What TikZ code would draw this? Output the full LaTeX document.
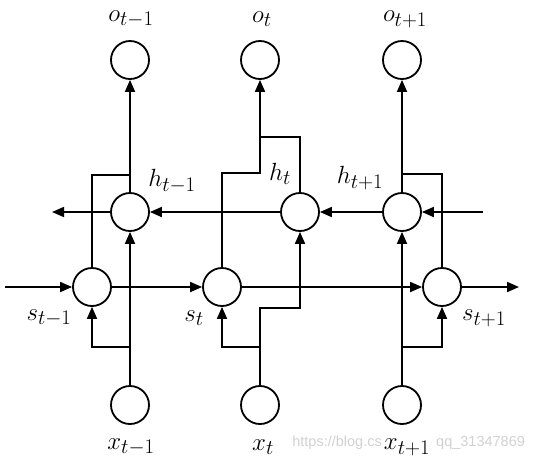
\documentclass[tikz,border=0pt]{standalone}
\usepackage{fontspec}
\newfontfamily\wmfont{Liberation Sans}
\usetikzlibrary{arrows.meta}
\begin{document}
\begin{tikzpicture}[x=1pt,y=-1pt,
  unit/.style={circle,draw,line width=1.8pt,minimum size=38pt,inner sep=0pt},
  plain/.style={line width=1.8pt},
  arr/.style={line width=1.8pt,-{Triangle[length=12pt,width=10pt]}},
  lab/.style={font=\fontsize{28}{32}\selectfont,inner sep=1pt},
  wm/.style={text=black!18,font=\wmfont\fontsize{14.5}{16}\selectfont,inner sep=0pt}]
\useasboundingbox (0,0) rectangle (537,459);
% watermark (visible parts)
\node[wm,anchor=east] (wma) at (382,443) {https://blog.cs};
\node[wm,anchor=west] (wmb) at (436,443) {qq\_31347869};
% units
\node[unit] (o1) at (130,60) {};
\node[unit] (o2) at (260,60) {};
\node[unit] (o3) at (402,60) {};
\node[unit] (h1) at (130,212) {};
\node[unit] (h2) at (300,212) {};
\node[unit] (h3) at (402,212) {};
\node[unit] (s1) at (92,287) {};
\node[unit] (s2) at (222,287) {};
\node[unit] (s3) at (442,287) {};
\node[unit] (x1) at (130,405) {};
\node[unit] (x2) at (260,405) {};
\node[unit] (x3) at (402,405) {};
% labels
\node[lab] (lo1) at (131,19) {$o_{t-1}$};
\node[lab] (lo2) at (262,19) {$o_{t}$};
\node[lab] (lo3) at (405,19) {$o_{t+1}$};
\node[lab] (lh1) at (172,181) {$h_{t-1}$};
\node[lab] (lh2) at (280,174) {$h_{t}$};
\node[lab] (lh3) at (360,178) {$h_{t+1}$};
\node[lab] (ls1) at (49,318) {$s_{t-1}$};
\node[lab] (ls2) at (194,318) {$s_{t}$};
\node[lab] (ls3) at (484,318) {$s_{t+1}$};
\node[lab] (lx1) at (131,447) {$x_{t-1}$};
\node[lab] (lx2) at (263,447) {$x_{t}$};
\node[lab] (lx3) at (407,447) {$x_{t+1}$};
% coordinates
\coordinate (j1) at (130,347);
\coordinate (j2) at (260,347);
\coordinate (j3) at (402,347);
\coordinate (m2) at (300,308);
\coordinate (k1) at (130,175);
\coordinate (k2) at (260,173);
\coordinate (n2) at (260,137);
\coordinate (k3) at (402,174);
\coordinate (hin) at (483,212);
\coordinate (hout) at (52,212);
\coordinate (sin) at (5,287);
\coordinate (sout) at (519,287);
% column t-1
\draw[arr] (x1) -- (h1);
\draw[arr] (j1) -| (s1);
\draw[arr] (h1) -- (o1);
\draw[plain] (s1) |- (k1);
% column t
\draw[arr] (x2) |- (m2) -- (h2);
\draw[arr] (j2) -| (s2);
\draw[arr] (h2) |- (n2) -- (o2);
\draw[plain] (s2) |- (k2) -- (n2);
% column t+1
\draw[arr] (x3) -- (h3);
\draw[arr] (j3) -| (s3);
\draw[arr] (h3) -- (o3);
\draw[plain] (s3) |- (k3);
% hidden chain (right to left)
\draw[arr] (hin) -- (h3);
\draw[arr] (h3) -- (h2);
\draw[arr] (h2) -- (h1);
\draw[arr] (h1) -- (hout);
% state chain (left to right)
\draw[arr] (sin) -- (s1);
\draw[arr] (s1) -- (s2);
\draw[arr] (s2) -- (s3);
\draw[arr] (s3) -- (sout);
\end{tikzpicture}
\end{document}
